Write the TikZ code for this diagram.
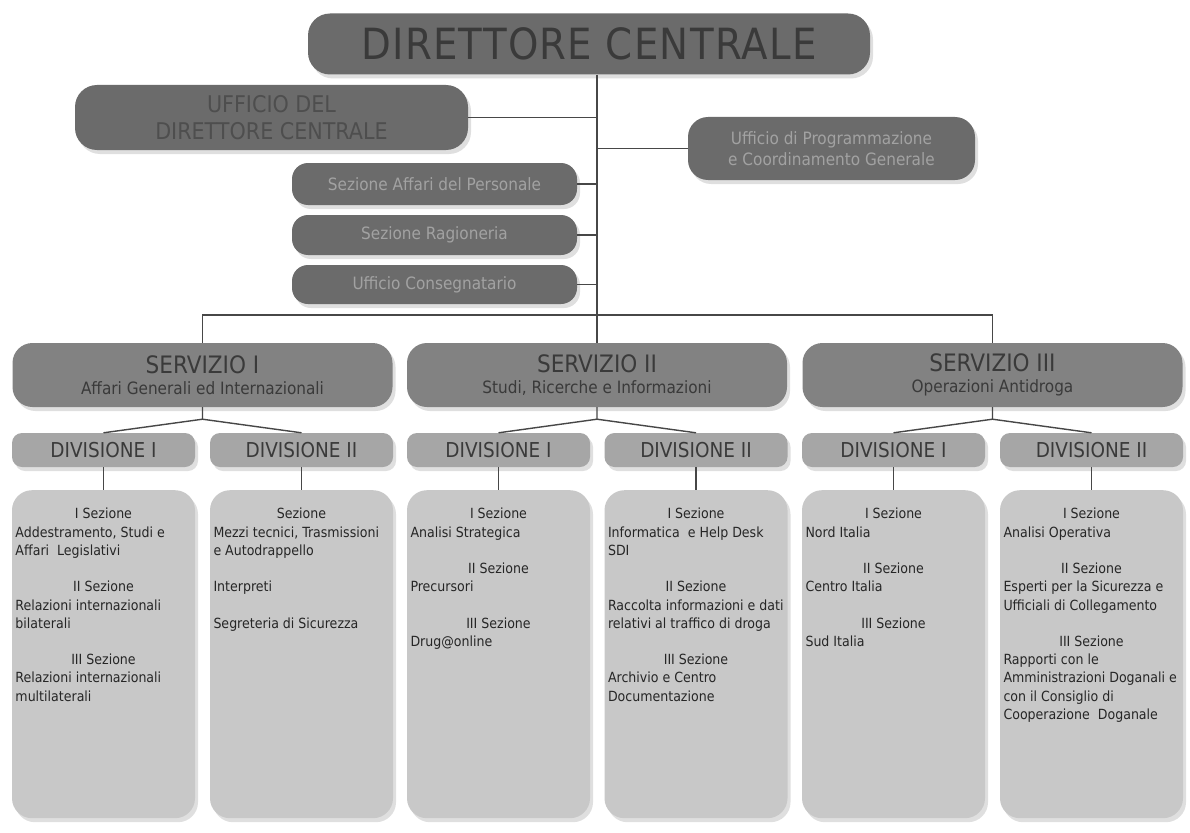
\documentclass[tikz,border=0pt]{standalone}
\usepackage{fontspec}
\setmainfont{DejaVu Sans Condensed}
\usetikzlibrary{shadows}
\definecolor{filldark}{HTML}{6B6B6B}
\definecolor{fillserv}{HTML}{828282}
\definecolor{filldiv}{HTML}{A6A6A6}
\definecolor{fillcol}{HTML}{C8C8C8}
\definecolor{inkdark}{HTML}{3A3A3A}
\definecolor{inkmid}{HTML}{4E4E4E}
\definecolor{inkpale}{HTML}{A2A2A2}
\definecolor{linegray}{HTML}{474747}
\newcommand{\sez}[1]{\centerline{#1}}
\newcommand{\gap}{\par\vspace{18pt}}
\newcommand{\colbody}[1]{\parbox[t][292pt][t]{176pt}{\fontsize{14}{18.3}\selectfont\raggedright #1}}
\newcommand{\servtext}[2]{{\fontsize{24}{28}\selectfont #1}\\[7pt]{\fontsize{17}{18}\selectfont #2}}

\begin{document}
\begin{tikzpicture}[x=1pt,y=-1pt,
  link/.style={draw=linegray,line width=1.4pt},
  shade/.style={drop shadow={opacity=0.25,shadow xshift=3pt,shadow yshift=-4pt}},
  dirbox/.style={shade,fill=filldark,rounded corners=22pt,text=inkdark,inner sep=0pt,align=center},
  smallbox/.style={shade,fill=filldark,rounded corners=16pt,text=inkpale,inner sep=0pt,align=center,font=\fontsize{17}{21}\selectfont},
  servbox/.style={shade,fill=fillserv,rounded corners=20pt,text=inkdark,inner sep=0pt,align=center,minimum width=380,minimum height=64},
  divbox/.style={shade,fill=filldiv,rounded corners=10pt,text=inkdark,inner sep=0pt,minimum width=183,minimum height=34,font=\fontsize{20.5}{22}\selectfont},
  colbox/.style={shade,fill=fillcol,rounded corners=20pt,text=black!85,anchor=north,inner xsep=3.5pt,inner ysep=18pt}]
\useasboundingbox[fill=white] (0,0) rectangle (1190,832);

\node[dirbox,minimum width=562,minimum height=61,font=\fontsize{43}{46}\selectfont\addfontfeatures{LetterSpace=3}] (dc) at (589,44) {DIRETTORE CENTRALE};
\node[dirbox,minimum width=393,minimum height=65,text=inkmid,font=\fontsize{23}{27}\selectfont] (udc) at (271.5,117.5) {UFFICIO DEL\\DIRETTORE CENTRALE};
\node[smallbox,minimum width=287,minimum height=63,rounded corners=20pt] (upg) at (831.5,148.5) {Ufficio di Programmazione\\e Coordinamento Generale};
\node[smallbox,minimum width=285,minimum height=42] (sap) at (434.5,184) {Sezione Affari del Personale};
\node[smallbox,minimum width=285,minimum height=40] (srg) at (434.5,235) {Sezione Ragioneria};
\node[smallbox,minimum width=285,minimum height=39] (ucs) at (434.5,284.5) {Ufficio Consegnatario};

\node[servbox] (s1) at (202.5,375) {\servtext{SERVIZIO I}{Affari Generali ed Internazionali}};
\node[servbox] (s2) at (597,375) {\servtext{SERVIZIO II}{Studi, Ricerche e Informazioni}};
\node[servbox] (s3) at (992.5,375) {\servtext{SERVIZIO III}{Operazioni Antidroga}};

\node[divbox] (d11) at (103.5,450) {DIVISIONE I};
\node[divbox] (d12) at (301.5,450) {DIVISIONE II};
\node[divbox] (d21) at (498.5,450) {DIVISIONE I};
\node[divbox] (d22) at (696,450) {DIVISIONE II};
\node[divbox] (d31) at (893.5,450) {DIVISIONE I};
\node[divbox] (d32) at (1091.5,450) {DIVISIONE II};

\node[colbox] (c11) at (103.5,490) {\colbody{\sez{I Sezione}
  Addestramento, Studi e\\Affari\ \ Legislativi\gap
  \sez{II Sezione}
  Relazioni internazionali\\bilaterali\gap
  \sez{III Sezione}
  Relazioni internazionali\\multilaterali}};
\node[colbox] (c12) at (301.5,490) {\colbody{\sez{Sezione}
  Mezzi tecnici, Trasmissioni\\e Autodrappello\gap
  Interpreti\gap
  Segreteria di Sicurezza}};
\node[colbox] (c21) at (498.5,490) {\colbody{\sez{I Sezione}
  Analisi Strategica\gap
  \sez{II Sezione}
  Precursori\gap
  \sez{III Sezione}
  Drug@online}};
\node[colbox] (c22) at (696,490) {\colbody{\sez{I Sezione}
  Informatica\ \ e Help Desk\\SDI\gap
  \sez{II Sezione}
  Raccolta informazioni e dati\\relativi al traffico di droga\gap
  \sez{III Sezione}
  Archivio e Centro\\Documentazione}};
\node[colbox] (c31) at (893.5,490) {\colbody{\sez{I Sezione}
  Nord Italia\gap
  \sez{II Sezione}
  Centro Italia\gap
  \sez{III Sezione}
  Sud Italia}};
\node[colbox] (c32) at (1091.5,490) {\colbody{\sez{I Sezione}
  Analisi Operativa\gap
  \sez{II Sezione}
  Esperti per la Sicurezza e\\Ufficiali di Collegamento\gap
  \sez{III Sezione}
  Rapporti con le\\Amministrazioni Doganali e\\con il Consiglio di\\Cooperazione\ \ Doganale}};

\coordinate (bar) at (597,315);
\draw[link] (s2.north |- dc.south) -- (s2.north);
\draw[link] (s1.north) |- (bar) -| (s3.north);
\draw[link] (udc.east) -- (udc.east -| s2.north);
\draw[link] (upg.west) -- (upg.west -| s2.north);
\draw[link] (sap.east) -- (sap.east -| s2.north);
\draw[link] (srg.east) -- (srg.east -| s2.north);
\draw[link] (ucs.east) -- (ucs.east -| s2.north);
\foreach \i in {1,2,3}{
  \draw[link] (s\i.south) -- ++(0,12) coordinate (j\i) -- (d\i1.north);
  \draw[link] (j\i) -- (d\i2.north);
  \draw[link] (d\i1.south) -- (c\i1.north);
  \draw[link] (d\i2.south) -- (c\i2.north);
}
\end{tikzpicture}
\end{document}
